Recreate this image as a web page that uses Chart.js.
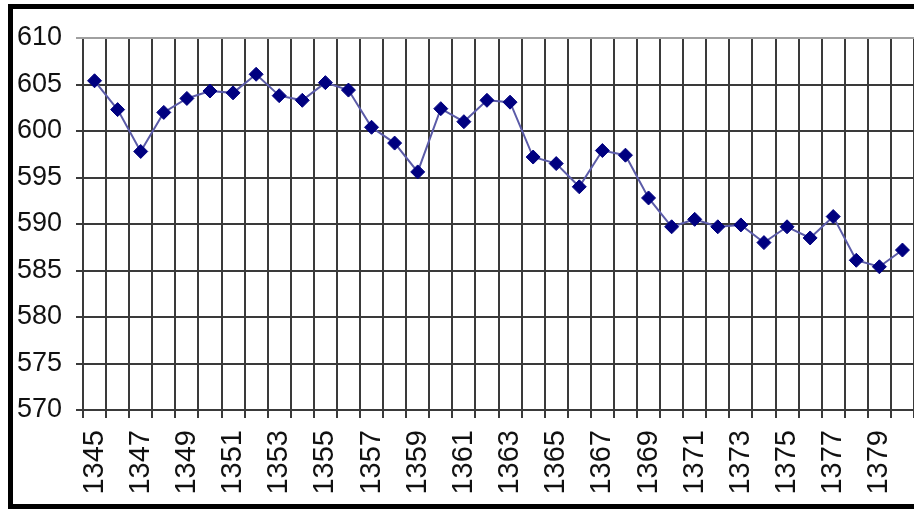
<!DOCTYPE html>
<html>
<head>
<meta charset="utf-8">
<script src="https://cdn.jsdelivr.net/npm/chart.js@4/dist/chart.umd.min.js"></script>
<style>
html,body{margin:0;padding:0;background:#fff;overflow:hidden}
#frame{position:absolute;left:8px;top:4px;right:-20px;bottom:0;border:5px solid #000}
#wrap{position:absolute;left:0;top:0;width:922px;height:509px}
</style>
</head>
<body>
<div id="frame"></div>
<div id="wrap"><canvas id="graph"></canvas></div>
<script>
// years on the x axis
let years=["1345","1346","1347","1348","1349","1350","1351","1352","1353","1354","1355","1356",
"1357","1358","1359","1360","1361","1362","1363","1364","1365","1366","1367","1368",
"1369","1370","1371","1372","1373","1374","1375","1376","1377","1378","1379","1380"]

// values
let values=[605.4,602.3,597.8,602.0,603.5,604.3,604.1,606.1,603.8,603.3,605.2,604.4,
600.4,598.7,595.6,602.4,601.0,603.3,603.1,597.2,596.5,594.0,597.9,597.4,
592.8,589.7,590.5,589.7,589.9,588.0,589.7,588.5,590.8,586.1,585.4,587.2]

let yMin=570
let yMax=610
let yStep=5

let font="'Liberation Sans Narrow','Liberation Sans',Arial,sans-serif"

let canvas=document.getElementById("graph")

let chart=new Chart(canvas,{
type:'line',
data:{
labels:years,
datasets:[{
data:values,
borderColor:'#5b5ba8',
borderWidth:2,
tension:0,
pointStyle:'rectRot',
pointRadius:7,
pointBackgroundColor:'#000080',
pointBorderColor:'#000080',
pointBorderWidth:1
}]
},
options:{
responsive:true,
maintainAspectRatio:false,
animation:false,
layout:{padding:{top:38,left:0,right:0,bottom:0}},
plugins:{legend:{display:false},tooltip:{enabled:false}},
scales:{
x:{
offset:true,
grid:{offset:true,color:'#3a3a3a',lineWidth:2,tickLength:8,drawTicks:true},
border:{display:false},
ticks:{
autoSkip:false,
maxRotation:90,
minRotation:90,
padding:12,
color:'#111',
font:{family:font,size:29},
callback:function(v,i){return i%2==0?years[i]:""}
},
afterFit:function(s){s.height=99;s.paddingLeft=0;s.paddingRight=0}
},
y:{
min:yMin,
max:yMax,
grid:{
color:function(c){return c.tick&&c.tick.value==yMax?'#a0a0a0':'#3a3a3a'},
lineWidth:2,
tickLength:7
},
border:{display:false},
ticks:{stepSize:yStep,padding:14,color:'#111',font:{family:font,size:27}},
afterFit:function(s){s.width=83;s.paddingTop=0;s.paddingBottom=0}
}
}
}
})
</script>
</body>
</html>
